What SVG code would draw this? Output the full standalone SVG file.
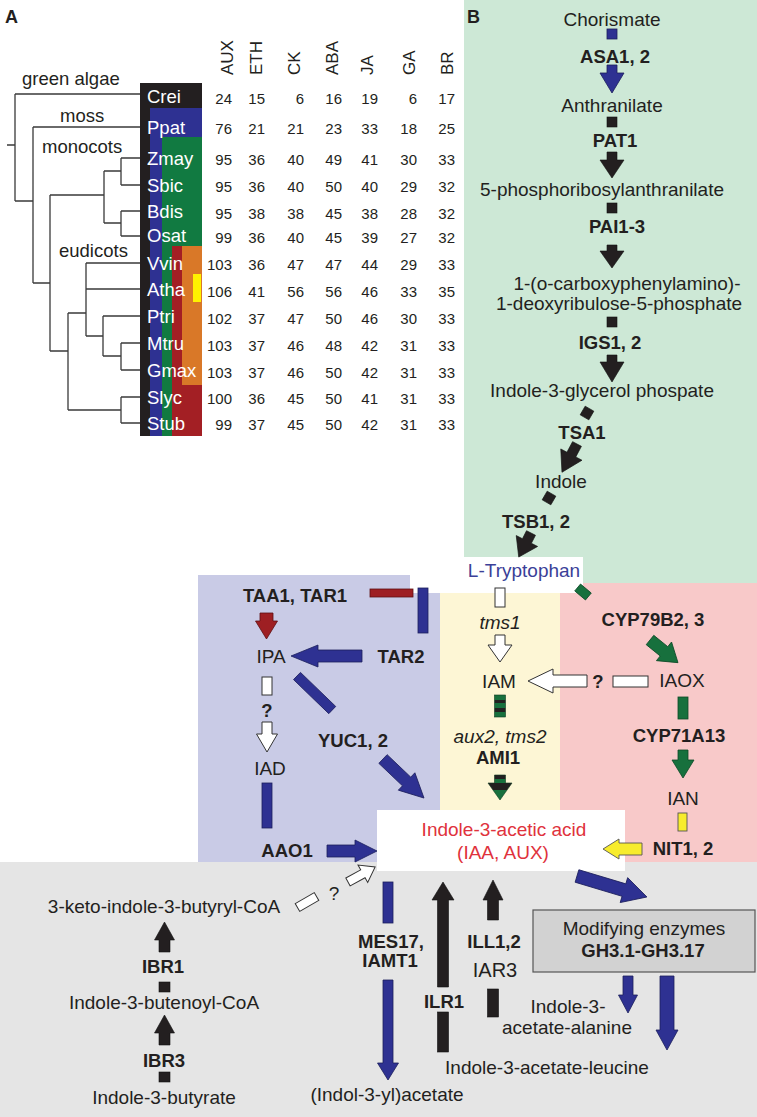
<svg xmlns="http://www.w3.org/2000/svg" width="757" height="1117" viewBox="0 0 757 1117">
<defs>
<style>
text{font-family:"Liberation Sans",Arial,sans-serif;fill:#231f20}
.t{font-size:19px;text-anchor:middle}
.b{font-size:18.5px;font-weight:bold;text-anchor:middle}
.i{font-size:19px;font-style:italic;text-anchor:middle}
.lab{font-size:18.5px;fill:#fff}
.cl{font-size:18.5px}
.n{font-size:15px;text-anchor:end}
.h{font-size:17px}
.tr{stroke:#3a3a3a;stroke-width:1.3;fill:none}
.ab{fill:#2e3192;stroke:#1c1f5c;stroke-width:0.8}
.ak{fill:#231f20;stroke:#111;stroke-width:0.6}
.ag{fill:#17703d;stroke:#0d4a27;stroke-width:0.8}
.ar{fill:#9e1f23;stroke:#5e1013;stroke-width:0.8}
.ay{fill:#f7ec2d;stroke:#555;stroke-width:0.9}
.aw{fill:#fff;stroke:#333;stroke-width:1}
</style>
<linearGradient id="stripeR" gradientUnits="userSpaceOnUse" x1="0" y1="695" x2="0" y2="717">
<stop offset="0" stop-color="#17703d"/><stop offset="0.23" stop-color="#17703d"/>
<stop offset="0.23" stop-color="#231f20"/><stop offset="0.38" stop-color="#231f20"/>
<stop offset="0.38" stop-color="#17703d"/><stop offset="0.57" stop-color="#17703d"/>
<stop offset="0.57" stop-color="#231f20"/><stop offset="0.77" stop-color="#231f20"/>
<stop offset="0.77" stop-color="#17703d"/><stop offset="1" stop-color="#17703d"/>
</linearGradient>
<linearGradient id="stripeA" gradientUnits="userSpaceOnUse" x1="0" y1="775" x2="0" y2="800">
<stop offset="0" stop-color="#231f20"/><stop offset="0.17" stop-color="#231f20"/>
<stop offset="0.17" stop-color="#17703d"/><stop offset="0.33" stop-color="#17703d"/>
<stop offset="0.33" stop-color="#231f20"/><stop offset="0.6" stop-color="#231f20"/>
<stop offset="0.6" stop-color="#17703d"/><stop offset="1" stop-color="#17703d"/>
</linearGradient>
</defs>
<rect width="757" height="1117" fill="#fff"/>

<!-- Panel A -->
<g id="panelA">
<text x="5" y="23" style="font-size:18px;font-weight:bold">A</text>
<g id="tree">
<path class="tr" d="M7,145H15 M15,94V201 M15,94H140 M15,201H33 M33,127V283 M33,127H140 M33,283H50 M50,195V351 M50,195H104 M104,171V223 M104,171H121 M104,223H121 M121,158V185 M121,158H140 M121,185H140 M121,211V236 M121,211H140 M121,236H140 M50,351H68 M68,313V410 M68,313H86 M86,263V336 M86,263H140 M86,289H140 M86,336H103 M103,316V356 M103,316H140 M103,356H121 M121,343V370 M121,343H140 M121,370H140 M68,410H121 M121,397V423 M121,397H140 M121,423H140"/>
<text class="cl" x="22" y="85">green algae</text>
<text class="cl" x="60" y="122">moss</text>
<text class="cl" x="42" y="153">monocots</text>
<text class="cl" x="59" y="257">eudicots</text>
</g>
<g id="colorbar">
<rect x="140" y="83" width="62" height="353" fill="#231f20"/>
<rect x="150" y="108" width="52" height="328" fill="#2e3192"/>
<rect x="162" y="137" width="40" height="299" fill="#117a41"/>
<rect x="172" y="246" width="30" height="190" fill="#a31f24"/>
<rect x="182" y="246" width="20" height="139" fill="#d97828"/>
<rect x="193" y="274" width="8" height="28" fill="#fff200"/>
</g>
<g id="headers" class="h">
<text transform="translate(233,75) rotate(-90)">AUX</text>
<text transform="translate(262,75) rotate(-90)">ETH</text>
<text transform="translate(300,75) rotate(-90)">CK</text>
<text transform="translate(338,75) rotate(-90)">ABA</text>
<text transform="translate(373,75) rotate(-90)">JA</text>
<text transform="translate(415,75) rotate(-90)">GA</text>
<text transform="translate(453,75) rotate(-90)">BR</text>
</g>
<g id="row-Crei"><text class="lab" x="147" y="103">Crei</text><text class="n" y="104"><tspan x="232">24</tspan><tspan x="265">15</tspan><tspan x="304">6</tspan><tspan x="342">16</tspan><tspan x="378">19</tspan><tspan x="417">6</tspan><tspan x="455">17</tspan></text></g>
<g id="row-Ppat"><text class="lab" x="147" y="134">Ppat</text><text class="n" y="134"><tspan x="232">76</tspan><tspan x="265">21</tspan><tspan x="304">21</tspan><tspan x="342">23</tspan><tspan x="378">33</tspan><tspan x="417">18</tspan><tspan x="455">25</tspan></text></g>
<g id="row-Zmay"><text class="lab" x="147" y="165">Zmay</text><text class="n" y="165"><tspan x="232">95</tspan><tspan x="265">36</tspan><tspan x="304">40</tspan><tspan x="342">49</tspan><tspan x="378">41</tspan><tspan x="417">30</tspan><tspan x="455">33</tspan></text></g>
<g id="row-Sbic"><text class="lab" x="147" y="192">Sbic</text><text class="n" y="192"><tspan x="232">95</tspan><tspan x="265">36</tspan><tspan x="304">40</tspan><tspan x="342">50</tspan><tspan x="378">40</tspan><tspan x="417">29</tspan><tspan x="455">32</tspan></text></g>
<g id="row-Bdis"><text class="lab" x="147" y="218">Bdis</text><text class="n" y="219"><tspan x="232">95</tspan><tspan x="265">38</tspan><tspan x="304">38</tspan><tspan x="342">45</tspan><tspan x="378">38</tspan><tspan x="417">28</tspan><tspan x="455">32</tspan></text></g>
<g id="row-Osat"><text class="lab" x="147" y="242">Osat</text><text class="n" y="243"><tspan x="232">99</tspan><tspan x="265">36</tspan><tspan x="304">40</tspan><tspan x="342">45</tspan><tspan x="378">39</tspan><tspan x="417">27</tspan><tspan x="455">32</tspan></text></g>
<g id="row-Vvin"><text class="lab" x="147" y="270">Vvin</text><text class="n" y="270"><tspan x="232">103</tspan><tspan x="265">36</tspan><tspan x="304">47</tspan><tspan x="342">47</tspan><tspan x="378">44</tspan><tspan x="417">29</tspan><tspan x="455">33</tspan></text></g>
<g id="row-Atha"><text class="lab" x="147" y="296">Atha</text><text class="n" y="297"><tspan x="232">106</tspan><tspan x="265">41</tspan><tspan x="304">56</tspan><tspan x="342">56</tspan><tspan x="378">46</tspan><tspan x="417">33</tspan><tspan x="455">35</tspan></text></g>
<g id="row-Ptri"><text class="lab" x="147" y="323">Ptri</text><text class="n" y="324"><tspan x="232">102</tspan><tspan x="265">37</tspan><tspan x="304">47</tspan><tspan x="342">50</tspan><tspan x="378">46</tspan><tspan x="417">30</tspan><tspan x="455">33</tspan></text></g>
<g id="row-Mtru"><text class="lab" x="147" y="350">Mtru</text><text class="n" y="351"><tspan x="232">103</tspan><tspan x="265">37</tspan><tspan x="304">46</tspan><tspan x="342">48</tspan><tspan x="378">42</tspan><tspan x="417">31</tspan><tspan x="455">33</tspan></text></g>
<g id="row-Gmax"><text class="lab" x="147" y="377">Gmax</text><text class="n" y="378"><tspan x="232">103</tspan><tspan x="265">37</tspan><tspan x="304">46</tspan><tspan x="342">50</tspan><tspan x="378">42</tspan><tspan x="417">31</tspan><tspan x="455">33</tspan></text></g>
<g id="row-Slyc"><text class="lab" x="147" y="404">Slyc</text><text class="n" y="404"><tspan x="232">100</tspan><tspan x="265">36</tspan><tspan x="304">45</tspan><tspan x="342">50</tspan><tspan x="378">41</tspan><tspan x="417">31</tspan><tspan x="455">33</tspan></text></g>
<g id="row-Stub"><text class="lab" x="147" y="430">Stub</text><text class="n" y="430"><tspan x="232">99</tspan><tspan x="265">37</tspan><tspan x="304">45</tspan><tspan x="342">50</tspan><tspan x="378">42</tspan><tspan x="417">31</tspan><tspan x="455">33</tspan></text></g>
</g>

<!-- Panel B backgrounds -->
<g id="backgrounds">
<rect x="464" y="0" width="293" height="583" fill="#cde8d6"/>
<rect x="560" y="583" width="197" height="279" fill="#f8c9c9"/>
<rect x="198" y="575" width="242" height="287" fill="#c9cbe6"/>
<rect x="440" y="593" width="120" height="217" fill="#fdf6d5"/>
<rect x="0" y="862" width="757" height="255" fill="#e5e5e5"/>
<rect x="410" y="557" width="173" height="36" fill="#fff"/>
<rect x="377" y="810" width="248" height="61" fill="#fff"/>
</g>
<text x="467" y="23" style="font-size:18px;font-weight:bold">B</text>

<!-- Connectors -->
<g id="connectors">
<rect class="ab" x="607" y="29" width="10" height="10"/>
<polygon class="ab" points="607,65 617,65 617,73 624,73 612,93 600,73 607,73"/>
<rect class="ak" x="607" y="117" width="10" height="10"/>
<polygon class="ak" points="607,152 617,152 617,160 624,160 612,178 600,160 607,160"/>
<rect class="ak" x="607" y="203" width="10" height="10"/>
<polygon class="ak" points="607,245 617,245 617,251 624,251 612,268 600,251 607,251"/>
<rect class="ak" x="607" y="317" width="10" height="10"/>
<polygon class="ak" points="607,355 617,355 617,362 624,362 612,382 600,362 607,362"/>
<rect class="ak" x="-5" y="-5" width="10" height="10" transform="translate(587,413) rotate(30)"/>
<polygon class="ak" points="-5,0 5,0 5,12 12,12 0,32 -12,12 -5,12" transform="translate(577,444) rotate(28)"/>
<rect class="ak" x="-5" y="-5" width="10" height="10" transform="translate(549,498) rotate(30)"/>
<polygon class="ak" points="-5,0 5,0 5,9 12,9 0,27 -12,9 -5,9" transform="translate(531,533) rotate(27)"/>

<!-- IPA branch -->
<rect class="ar" x="370" y="589" width="43" height="8"/>
<rect class="ab" x="418" y="588" width="10" height="45"/>
<polygon class="ar" points="260,613 273,613 273,621 277.5,621 266.5,639 255.5,621 260,621"/>
<polygon class="ab" points="362,650 318,650 318,645 291,656 318,667 318,662 362,662"/>
<rect class="aw" x="262" y="677" width="10" height="18"/>
<polygon class="aw" points="262,722 272,722 272,734 277.5,734 267,752 256.5,734 262,734"/>
<rect class="ab" x="262" y="783" width="10" height="45"/>
<polygon class="ab" points="327,845 355,845 355,840 377,851 355,862 355,857 327,857"/>
<rect class="ab" x="-5" y="0" width="10" height="49" transform="translate(297,676) rotate(-46)"/>
<polygon class="ab" points="-6,0 6,0 6,32.6 12,32.6 0,56.6 -12,32.6 -6,32.6" transform="translate(383,759) rotate(-46.4)"/>

<!-- IAM branch -->
<rect class="aw" x="495" y="588" width="10" height="19"/>
<polygon class="aw" points="495,635 505,635 505,645 512,645 500,662 488,645 495,645"/>
<rect x="494.5" y="695" width="11" height="22" fill="url(#stripeR)" stroke="#0d3a20" stroke-width="0.6"/>
<polygon points="494.5,775 505.5,775 505.5,783 512,783 500,800 488,783 494.5,783" fill="url(#stripeA)" stroke="#0d3a20" stroke-width="0.6"/>

<!-- IAOX branch -->
<rect class="ag" x="-7" y="-4.5" width="14" height="9" transform="translate(583,592) rotate(40)"/>
<polygon class="ag" points="-6,0 6,0 6,18 12,18 0,36 -12,18 -6,18" transform="translate(650,640) rotate(-51)"/>
<rect class="aw" x="613" y="676" width="35" height="11"/>
<polygon class="aw" points="587,675 553,675 553,669 528,681 553,693 553,687 587,687"/>
<rect class="ag" x="678" y="697" width="10" height="22"/>
<polygon class="ag" points="678,750 688,750 688,760 694,760 683,778 672,760 678,760"/>
<rect class="ay" x="678" y="813" width="9" height="18"/>
<polygon class="ay" points="642,843 619,843 619,839 603,849 619,859 619,855 642,855"/>

<!-- IAA outputs -->
<polygon class="ab" points="-6.5,0 6.5,0 6.5,49 13,49 0,73 -13,49 -6.5,49" transform="translate(577,876) rotate(-73.3)"/>
<polygon class="ab" points="623,976 633,976 633,995 637.5,995 628,1013 618.5,995 623,995"/>
<polygon class="ab" points="660,976 674,976 674,1030 678,1030 667,1050 656,1030 660,1030"/>
<polygon class="ak" points="437.5,987 448.5,987 448.5,900 454,900 443,882 432,900 437.5,900"/>
<rect class="ak" x="437.5" y="1012" width="11" height="40"/>
<polygon class="ak" points="487.5,920 498.5,920 498.5,900 503,900 493,880 483,900 487.5,900"/>
<rect class="ak" x="487.5" y="989" width="11" height="28"/>
<rect class="ab" x="383" y="882" width="10" height="41"/>
<polygon class="ab" points="383,980 393,980 393,1063 398.5,1063 388,1080 377.5,1063 383,1063"/>

<!-- IBA branch -->
<polygon class="ak" points="159,952 170,952 170,940 174.5,940 164.5,922 154.5,940 159,940"/>
<rect class="ak" x="159" y="982" width="11" height="10"/>
<polygon class="ak" points="159,1045 170,1045 170,1033 174.5,1033 164.5,1015 154.5,1033 159,1033"/>
<rect class="ak" x="159" y="1072" width="11" height="10"/>
<rect class="aw" x="-11" y="-4.5" width="22" height="9" transform="translate(307,902) rotate(-30)"/>
<polygon class="aw" points="-4.5,0 4.5,0 4.5,17 10,17 0,31 -10,17 -4.5,17" transform="translate(348,882) rotate(-119)"/>
</g>

<!-- Nodes -->
<g id="n-chorismate"><text class="t" x="612" y="26">Chorismate</text></g>
<g id="e-asa"><text class="b" x="615" y="63">ASA1, 2</text></g>
<g id="n-anthranilate"><text class="t" x="612" y="112">Anthranilate</text></g>
<g id="e-pat1"><text class="b" x="615" y="147">PAT1</text></g>
<g id="n-5pra"><text class="t" x="602" y="196">5-phosphoribosylanthranilate</text></g>
<g id="e-pai"><text class="b" x="617" y="233">PAI1-3</text></g>
<g id="n-cdrp"><text class="t" x="627" y="290">1-(o-carboxyphenylamino)-</text><text class="t" x="619" y="310">1-deoxyribulose-5-phosphate</text></g>
<g id="e-igs"><text class="b" x="610" y="349">IGS1, 2</text></g>
<g id="n-igp"><text class="t" x="602" y="397">Indole-3-glycerol phospate</text></g>
<g id="e-tsa"><text class="b" x="582" y="439">TSA1</text></g>
<g id="n-indole"><text class="t" x="561" y="488">Indole</text></g>
<g id="e-tsb"><text class="b" x="536" y="528">TSB1, 2</text></g>
<g id="n-trp"><text class="t" x="524" y="577" style="fill:#3b3f98">L-Tryptophan</text></g>

<g id="e-taa"><text class="b" x="295" y="602">TAA1, TAR1</text></g>
<g id="n-ipa"><text class="t" x="271" y="663">IPA</text></g>
<g id="e-tar2"><text class="b" x="401" y="663">TAR2</text></g>
<g id="q-ipa"><text class="b" x="267" y="717">?</text></g>
<g id="n-iad"><text class="t" x="270" y="775">IAD</text></g>
<g id="e-yuc"><text class="b" x="353" y="747">YUC1, 2</text></g>
<g id="e-aao"><text class="b" x="287" y="857">AAO1</text></g>

<g id="e-tms1"><text class="i" x="500" y="629">tms1</text></g>
<g id="n-iam"><text class="t" x="499" y="688">IAM</text></g>
<g id="e-ami"><text class="i" x="500" y="743">aux2, tms2</text><text class="b" x="498" y="764">AMI1</text></g>

<g id="e-cyp79"><text class="b" x="653" y="626">CYP79B2, 3</text></g>
<g id="n-iaox"><text class="t" x="682" y="687">IAOX</text></g>
<g id="q-iaox"><text class="b" x="598" y="688">?</text></g>
<g id="e-cyp71"><text class="b" x="679" y="742">CYP71A13</text></g>
<g id="n-ian"><text class="t" x="683" y="805">IAN</text></g>
<g id="e-nit"><text class="b" x="683" y="855">NIT1, 2</text></g>

<g id="n-iaa"><text class="t" x="504" y="836" style="fill:#e0323c">Indole-3-acetic acid</text><text class="t" x="503" y="859" style="fill:#e0323c">(IAA, AUX)</text></g>

<g id="n-gh3"><rect x="533" y="910" width="222" height="62" fill="#d2d2d2" stroke="#555" stroke-width="1.2"/><text class="t" x="644" y="935">Modifying enzymes</text><text class="b" x="643" y="957">GH3.1-GH3.17</text></g>
<g id="e-mes"><text class="b" x="391" y="948">MES17,</text><text class="b" x="390" y="967">IAMT1</text></g>
<g id="e-ill"><text class="b" x="494" y="948">ILL1,2</text><text class="t" x="495" y="977" style="font-size:20px">IAR3</text></g>
<g id="e-ilr"><text class="b" x="444" y="1008">ILR1</text></g>
<g id="n-iaala"><text class="t" x="568" y="1013">Indole-3-</text><text class="t" x="567" y="1034">acetate-alanine</text></g>
<g id="n-iale"><text class="t" x="547" y="1074">Indole-3-acetate-leucine</text></g>
<g id="n-meiaa"><text class="t" x="387" y="1101">(Indol-3-yl)acetate</text></g>

<g id="n-keto"><text class="t" x="164" y="913">3-keto-indole-3-butyryl-CoA</text></g>
<g id="q-keto"><text class="t" x="334" y="900">?</text></g>
<g id="e-ibr1"><text class="b" x="163" y="973">IBR1</text></g>
<g id="n-butenoyl"><text class="t" x="164" y="1009">Indole-3-butenoyl-CoA</text></g>
<g id="e-ibr3"><text class="b" x="164" y="1067">IBR3</text></g>
<g id="n-iba"><text class="t" x="164" y="1104">Indole-3-butyrate</text></g>
</svg>
